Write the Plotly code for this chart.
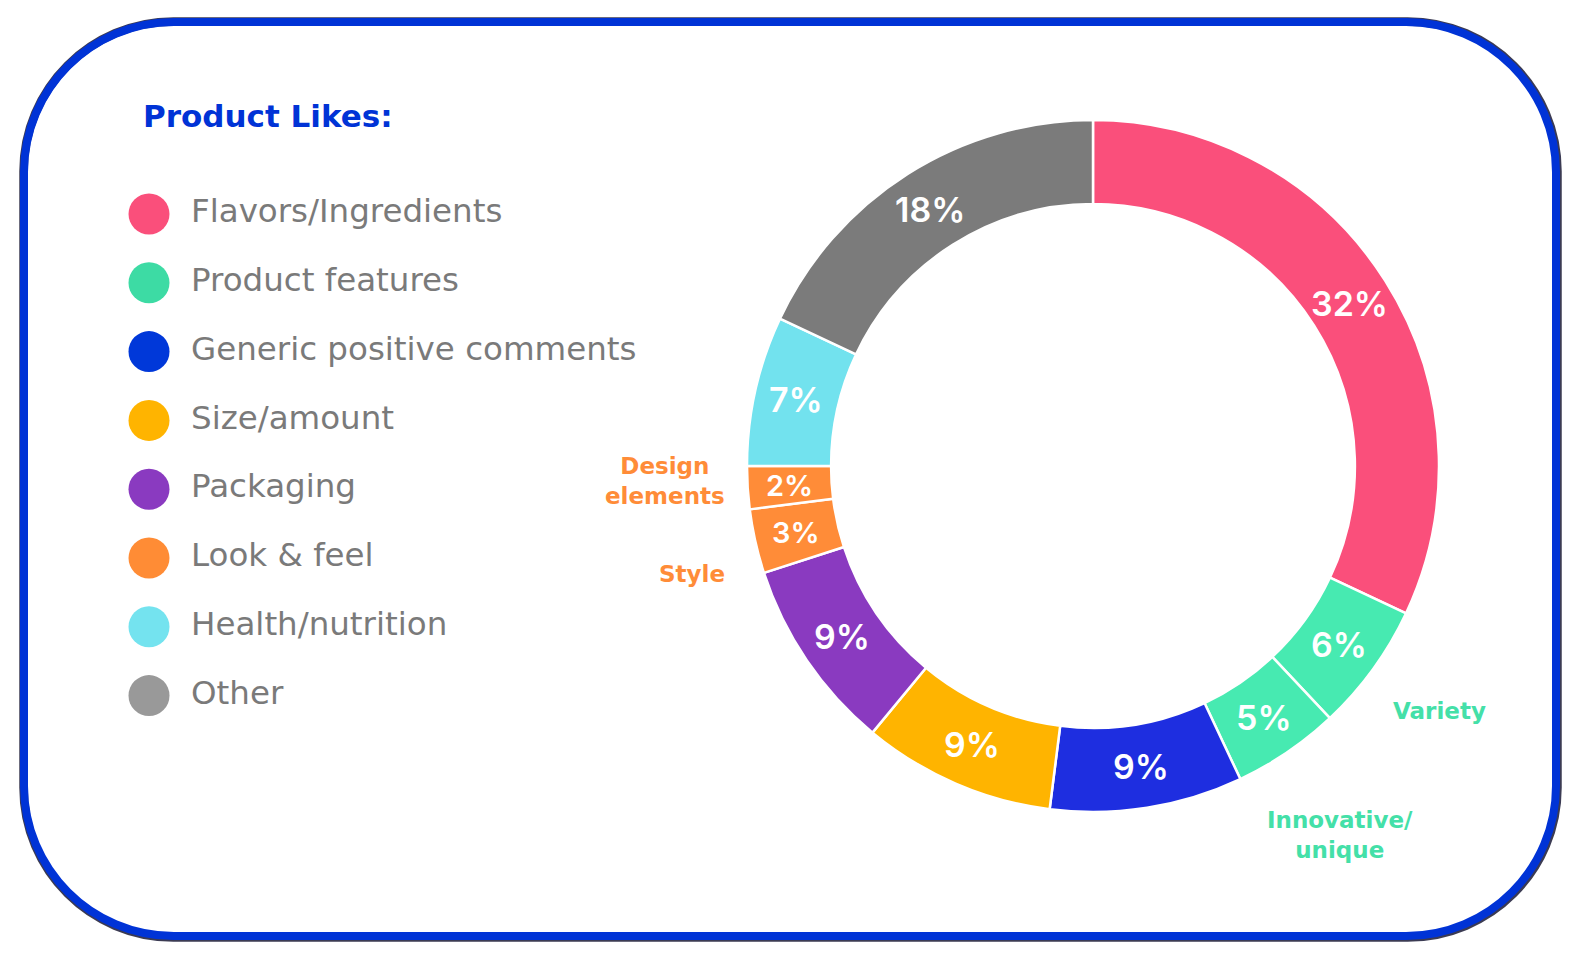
import math
import plotly.graph_objects as go

# slice data, clockwise from 12 o'clock
slice_names = ["Flavors/Ingredients", "Variety", "Innovative/unique", "Generic positive comments",
               "Size/amount", "Packaging", "Style", "Design elements", "Health/nutrition", "Other"]
slice_values = [32, 6, 5, 9, 9, 9, 3, 2, 7, 18]
slice_colors = ["#FA4F7B", "#47EAB1", "#47EAB1", "#1E2EE0", "#FFB400",
                "#8A3AC0", "#FF8C38", "#FF8C38", "#72E2EE", "#7B7B7B"]

# legend (custom, left side)
legend_names = ["Flavors/Ingredients", "Product features", "Generic positive comments", "Size/amount",
                "Packaging", "Look & feel", "Health/nutrition", "Other"]
legend_colors = ["#FA4F7B", "#3DDBA4", "#0038D9", "#FFB400", "#8A3AC0", "#FF8C35", "#74E3EF", "#999999"]

# page body has an 8px margin, so the figure starts at (8, 8) on screen
OFF = 8
W, H = 1572, 952
BLUE = "#0033D6"
GREEN_TXT = "#44E0A8"
ORANGE_TXT = "#FF8C38"


def rounded_rect(x0, y0, x1, y1, r):
    k = 0.5523 * r
    return (f"M {x0 + r},{y0} L {x1 - r},{y0} "
            f"C {x1 - r + k},{y0} {x1},{y0 + r - k} {x1},{y0 + r} "
            f"L {x1},{y1 - r} "
            f"C {x1},{y1 - r + k} {x1 - r + k},{y1} {x1 - r},{y1} "
            f"L {x0 + r},{y1} "
            f"C {x0 + r - k},{y1} {x0},{y1 - r + k} {x0},{y1 - r} "
            f"L {x0},{y0 + r} "
            f"C {x0},{y0 + r - k} {x0 + r - k},{y0} {x0 + r},{y0} Z")


fig = go.Figure()

# donut (screen coords of centre and outer radius)
cx, cy, rad, hole = 1093, 466, 346, 0.757
fig.add_trace(go.Pie(
    labels=slice_names,
    values=slice_values,
    textinfo="none",
    hole=hole,
    sort=False,
    direction="clockwise",
    rotation=0,
    marker=dict(colors=slice_colors, line=dict(color="white", width=2.5)),
    domain=dict(x=[(cx - rad - OFF) / W, (cx + rad - OFF) / W],
                y=[1 - (cy + rad - OFF) / H, 1 - (cy - rad - OFF) / H]),
    showlegend=False,
    hoverinfo="label+percent",
))

# percentage labels at the middle of each ring segment
r_mid = rad * (1 + hole) / 2
total = sum(slice_values)
cum = 0
for v in slice_values:
    theta = 2 * math.pi * (cum + v / 2) / total
    cum += v
    fig.add_annotation(
        x=cx + r_mid * math.sin(theta), y=cy - r_mid * math.cos(theta),
        xref="x", yref="y", text=f"{v}%", showarrow=False,
        font=dict(family="Inter, DejaVu Sans, sans-serif", size=34 if v > 3 else 29,
                  color="white", weight=600),
    )

# legend dots + names
leg_y = [214 + 68.8 * i for i in range(len(legend_names))]
fig.add_trace(go.Scatter(
    x=[149] * len(legend_names), y=leg_y, mode="markers",
    marker=dict(size=41, color=legend_colors, line=dict(width=0)),
    showlegend=False, hoverinfo="skip",
))
fig.add_trace(go.Scatter(
    x=[191] * len(legend_names), y=leg_y, mode="text",
    text=legend_names, textposition="middle right",
    textfont=dict(family="DejaVu Sans, sans-serif", size=32.5, color="#7A7A7A"),
    showlegend=False, hoverinfo="skip",
))

# box border (dark edge underneath, blue on top)
fig.add_shape(type="path", path=rounded_rect(23.5, 21.5, 1557.5, 937.5, 150),
              line=dict(color="rgba(10,10,40,0.8)", width=8.5), layer="below")
fig.add_shape(type="path", path=rounded_rect(24, 22, 1556, 936, 150),
              line=dict(color=BLUE, width=8), layer="below")

annots = [
    dict(x=141, y=116, text="<b>Product Likes:</b>", xanchor="left",
         font=dict(size=31, color=BLUE)),
    dict(x=665, y=481, text="<b>Design<br>elements</b>", xanchor="center",
         font=dict(size=23, color=ORANGE_TXT)),
    dict(x=727, y=574, text="<b>Style</b>", xanchor="right",
         font=dict(size=23, color=ORANGE_TXT)),
    dict(x=1391, y=711, text="<b>Variety</b>", xanchor="left",
         font=dict(size=23, color=GREEN_TXT)),
    dict(x=1340, y=835, text="<b>Innovative/<br>unique</b>", xanchor="center",
         font=dict(size=23, color=GREEN_TXT)),
]
for a in annots:
    a.update(xref="x", yref="y", yanchor="middle", showarrow=False)
    a["font"]["family"] = "DejaVu Sans, sans-serif"
    fig.add_annotation(**a)

fig.update_layout(
    width=W, height=H,
    margin=dict(l=0, r=0, t=0, b=0),
    paper_bgcolor="white", plot_bgcolor="rgba(0,0,0,0)",
    xaxis=dict(range=[OFF, OFF + W], visible=False, fixedrange=True),
    yaxis=dict(range=[OFF + H, OFF], visible=False, fixedrange=True),
)

fig.write_html("out.html")
